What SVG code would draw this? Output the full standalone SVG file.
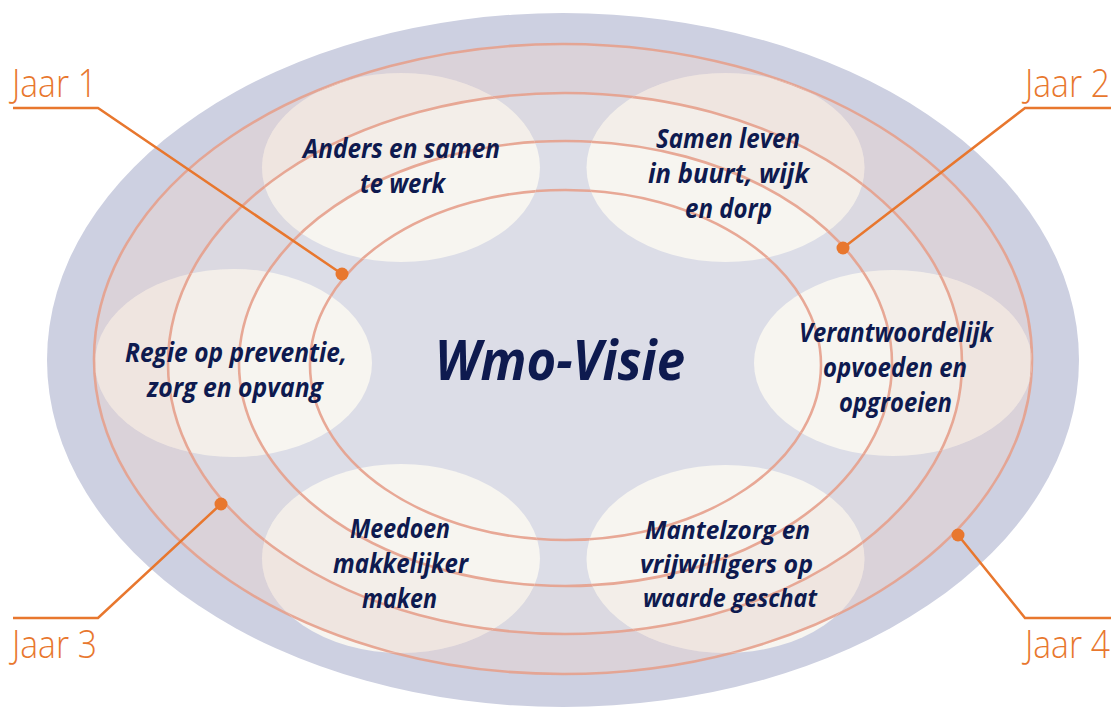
<svg xmlns="http://www.w3.org/2000/svg" xmlns:xlink="http://www.w3.org/1999/xlink" width="1117" height="710" viewBox="0 0 1117 710">
<style>
.lbl{font-family:"Open Sans","Liberation Sans",sans-serif;font-weight:700;font-style:italic;font-size:26px;fill:#0e1a4f}
.sm{font-size:25px}
.title{font-family:"Open Sans","Liberation Sans",sans-serif;font-weight:700;font-style:italic;font-size:56px;fill:#0e1a4f}
.jaar{font-family:"Open Sans","Liberation Sans",sans-serif;font-weight:300;font-size:35px;fill:#e8772e}
.ring{fill:none;stroke:#e6a08c;stroke-width:2.6;stroke-opacity:0.9}
.disc{fill:#f7f5f0}
.lead{fill:none;stroke:#e8772e;stroke-width:2.5;stroke-linejoin:miter}
.dot{fill:#e8772e}
</style>
<defs>
<g id="ringart">
<path fill="#d7afa8" fill-opacity="0.22" fill-rule="evenodd" d="M94,359 a469,315 0 1,0 938,0 a469,315 0 1,0 -938,0 Z M168,363.5 a397,270.5 0 1,0 794,0 a397,270.5 0 1,0 -794,0 Z"/>
<path fill="#d7afa8" fill-opacity="0.09" fill-rule="evenodd" d="M168,363.5 a397,270.5 0 1,0 794,0 a397,270.5 0 1,0 -794,0 Z M239,363.5 a326.5,222.5 0 1,0 653,0 a326.5,222.5 0 1,0 -653,0 Z"/>
<ellipse class="ring" cx="563" cy="359" rx="469" ry="315"/>
<ellipse class="ring" cx="565" cy="363.5" rx="397" ry="270.5"/>
<ellipse class="ring" cx="565.5" cy="363.5" rx="326.5" ry="222.5"/>
<ellipse class="ring" cx="565.5" cy="365" rx="255.5" ry="175"/>
</g>
<clipPath id="c1"><ellipse cx="401" cy="167.5" rx="139" ry="94.5"/></clipPath>
<clipPath id="c2"><ellipse cx="725.5" cy="167.5" rx="139" ry="94.5"/></clipPath>
<clipPath id="c3"><ellipse cx="233.5" cy="363" rx="138.5" ry="94"/></clipPath>
<clipPath id="c4"><ellipse cx="893" cy="363" rx="139" ry="93"/></clipPath>
<clipPath id="c5"><ellipse cx="401" cy="558.5" rx="139" ry="94.5"/></clipPath>
<clipPath id="c6"><ellipse cx="725.5" cy="559" rx="139" ry="94"/></clipPath>
</defs>

<g id="background">
<ellipse cx="563" cy="360" rx="516" ry="347" fill="#cdd0e1"/>
<ellipse cx="563" cy="359" rx="469" ry="315" fill="#dcdde7"/>
<use xlink:href="#ringart" href="#ringart"/>
</g>

<g id="center">
<text class="title" x="435" y="380" textLength="250" lengthAdjust="spacingAndGlyphs">Wmo-Visie</text>
</g>

<g id="node-anders">
<ellipse class="disc" cx="401" cy="167.5" rx="139" ry="94.5"/>
<use xlink:href="#ringart" href="#ringart" clip-path="url(#c1)"/>
<text class="lbl" x="303" y="158" textLength="197" lengthAdjust="spacingAndGlyphs">Anders en samen</text>
<text class="lbl" x="360" y="193" textLength="85" lengthAdjust="spacingAndGlyphs">te werk</text>
</g>

<g id="node-samen">
<ellipse class="disc" cx="725.5" cy="167.5" rx="139" ry="94.5"/>
<use xlink:href="#ringart" href="#ringart" clip-path="url(#c2)"/>
<text class="lbl" x="656" y="148" textLength="144" lengthAdjust="spacingAndGlyphs">Samen leven</text>
<text class="lbl" x="648" y="183" textLength="161" lengthAdjust="spacingAndGlyphs">in buurt, wijk</text>
<text class="lbl" x="685" y="218" textLength="87" lengthAdjust="spacingAndGlyphs">en dorp</text>
</g>

<g id="node-regie">
<ellipse class="disc" cx="233.5" cy="363" rx="138.5" ry="94"/>
<use xlink:href="#ringart" href="#ringart" clip-path="url(#c3)"/>
<text class="lbl" x="125" y="362" textLength="222" lengthAdjust="spacingAndGlyphs">Regie op preventie,</text>
<text class="lbl" x="147" y="397" textLength="176" lengthAdjust="spacingAndGlyphs">zorg en opvang</text>
</g>

<g id="node-verantwoordelijk">
<ellipse class="disc" cx="893" cy="363" rx="139" ry="93"/>
<use xlink:href="#ringart" href="#ringart" clip-path="url(#c4)"/>
<text class="lbl" x="799" y="342" textLength="194" lengthAdjust="spacingAndGlyphs">Verantwoordelijk</text>
<text class="lbl" x="823" y="377" textLength="144" lengthAdjust="spacingAndGlyphs">opvoeden en</text>
<text class="lbl" x="839" y="412" textLength="113" lengthAdjust="spacingAndGlyphs">opgroeien</text>
</g>

<g id="node-meedoen">
<ellipse class="disc" cx="401" cy="558.5" rx="139" ry="94.5"/>
<use xlink:href="#ringart" href="#ringart" clip-path="url(#c5)"/>
<text class="lbl" x="350" y="538" textLength="100" lengthAdjust="spacingAndGlyphs">Meedoen</text>
<text class="lbl" x="333" y="573" textLength="135" lengthAdjust="spacingAndGlyphs">makkelijker</text>
<text class="lbl" x="362" y="608" textLength="75" lengthAdjust="spacingAndGlyphs">maken</text>
</g>

<g id="node-mantelzorg">
<ellipse class="disc" cx="725.5" cy="559" rx="139" ry="94"/>
<use xlink:href="#ringart" href="#ringart" clip-path="url(#c6)"/>
<text class="lbl sm" x="645" y="539" textLength="165" lengthAdjust="spacingAndGlyphs">Mantelzorg en</text>
<text class="lbl sm" x="640" y="573" textLength="173" lengthAdjust="spacingAndGlyphs">vrijwilligers op</text>
<text class="lbl sm" x="643" y="607" textLength="174" lengthAdjust="spacingAndGlyphs">waarde geschat</text>
</g>

<g id="connectors">
<polyline class="lead" points="13,108 98,108 342,274"/>
<circle class="dot" cx="342" cy="274" r="6.5"/>
<polyline class="lead" points="1111,108 1025,108 843,248"/>
<circle class="dot" cx="843" cy="248" r="6.5"/>
<polyline class="lead" points="13,618 98,618 221,504"/>
<circle class="dot" cx="221" cy="504" r="6.5"/>
<polyline class="lead" points="1111,618 1025,618 958,535"/>
<circle class="dot" cx="958" cy="535" r="6.5"/>
</g>

<g id="label-jaar1"><text class="jaar" transform="translate(12,97) scale(1,1.12)" x="0" y="0" textLength="85" lengthAdjust="spacingAndGlyphs">Jaar 1</text></g>
<g id="label-jaar2"><text class="jaar" transform="translate(1025,97) scale(1,1.12)" x="0" y="0" textLength="85" lengthAdjust="spacingAndGlyphs">Jaar 2</text></g>
<g id="label-jaar3"><text class="jaar" transform="translate(12,658) scale(1,1.12)" x="0" y="0" textLength="85" lengthAdjust="spacingAndGlyphs">Jaar 3</text></g>
<g id="label-jaar4"><text class="jaar" transform="translate(1025,658) scale(1,1.12)" x="0" y="0" textLength="85" lengthAdjust="spacingAndGlyphs">Jaar 4</text></g>
</svg>
